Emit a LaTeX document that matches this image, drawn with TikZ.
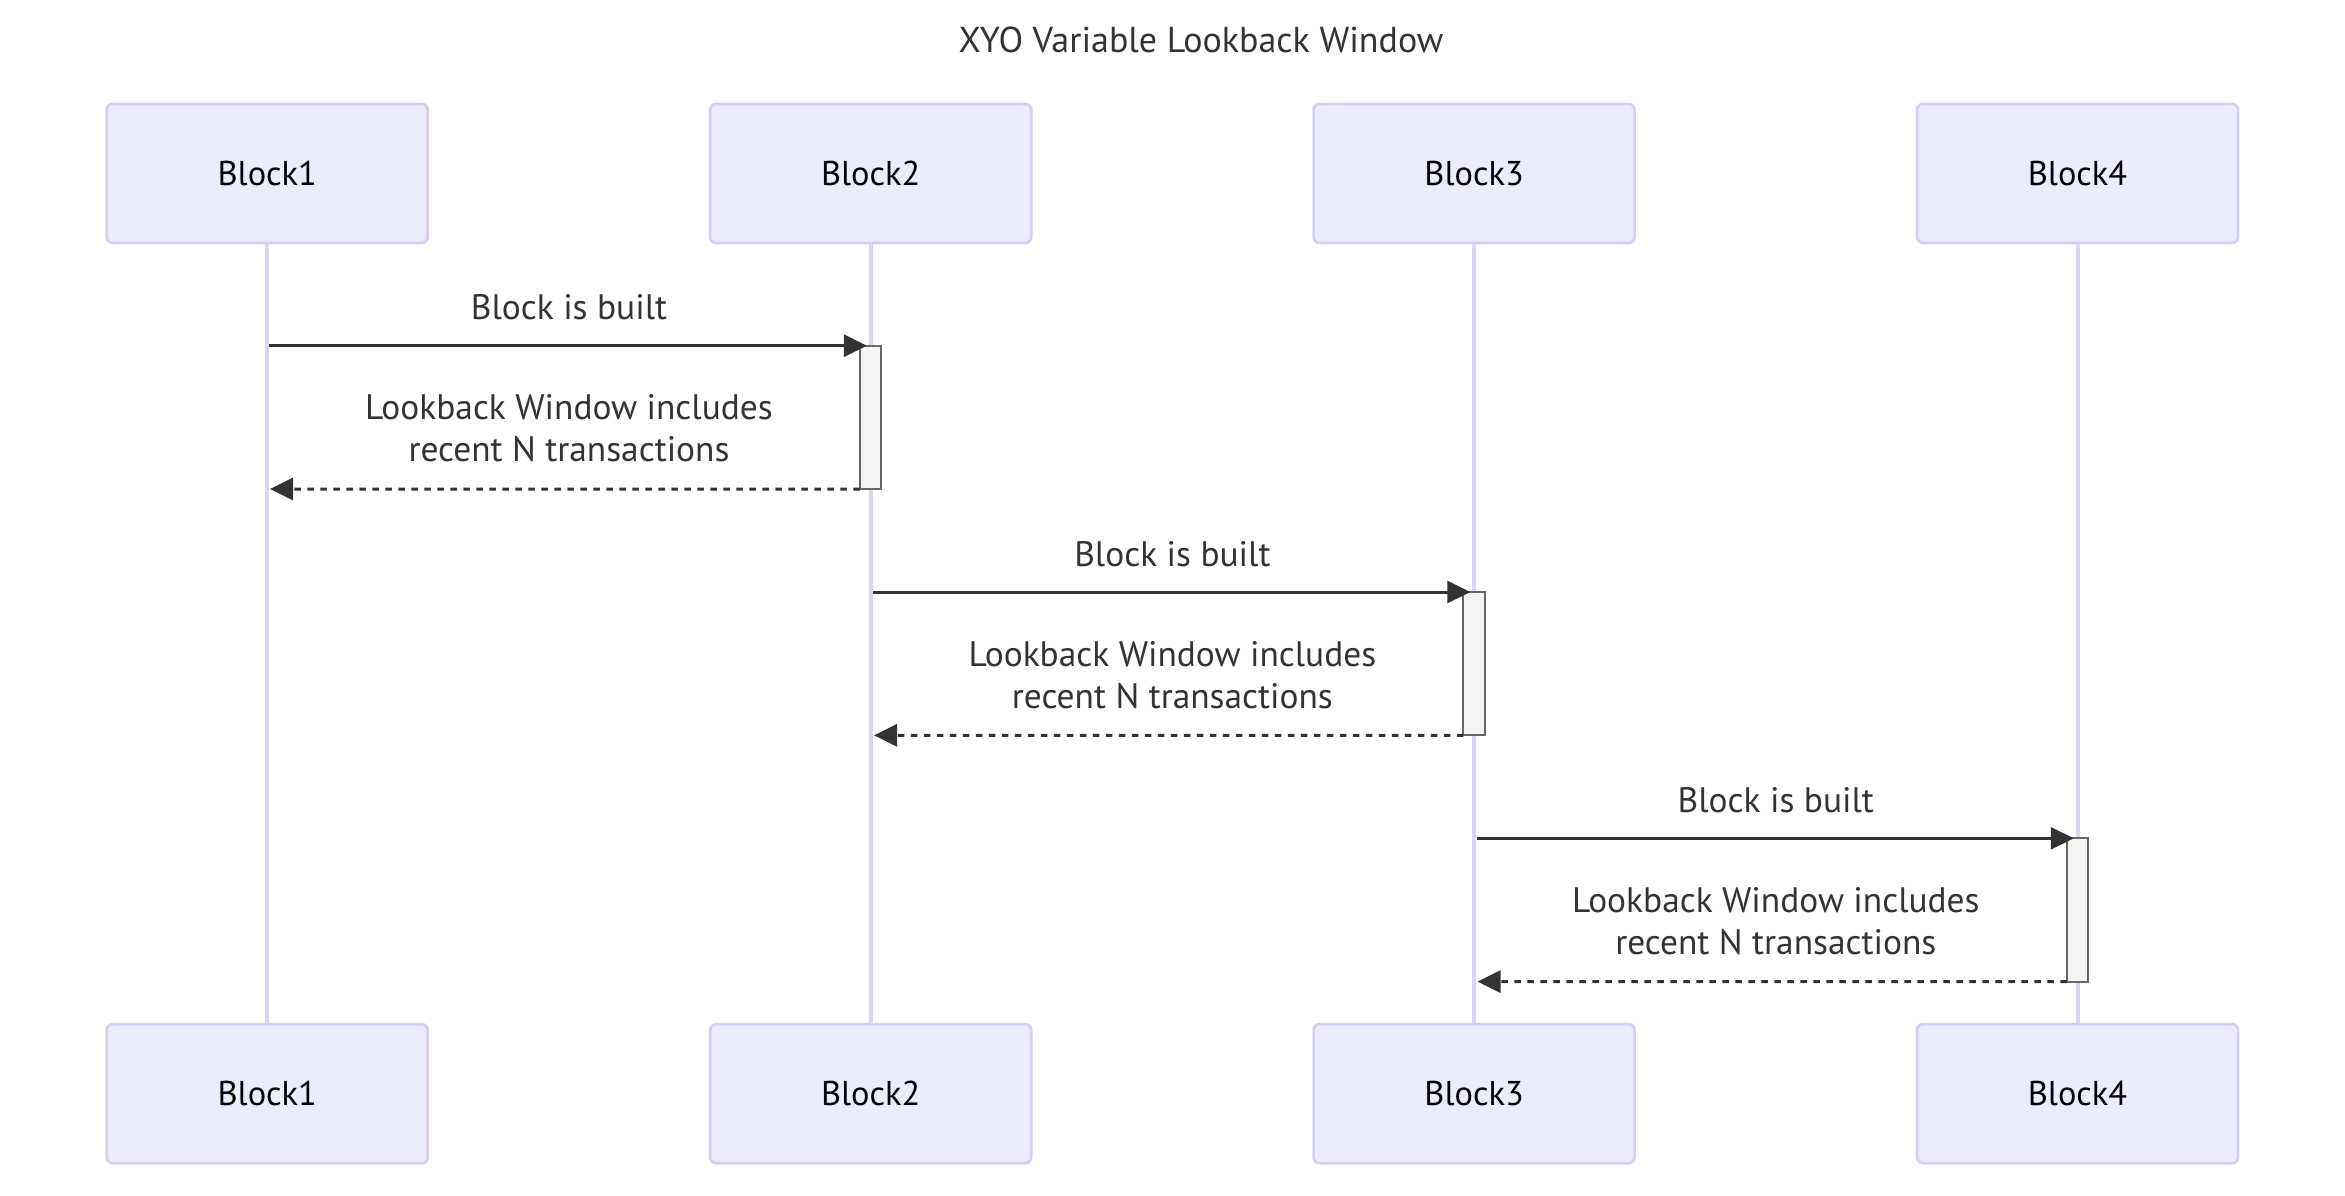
\documentclass[tikz,border=0pt]{standalone}
\usepackage{fontspec}
\setmainfont{PT Sans}
\usetikzlibrary{arrows.meta}
\definecolor{actfill}{HTML}{ECECFF}
\definecolor{actborder}{HTML}{D7CDF3}
\definecolor{lifecol}{HTML}{DCD3F5}
\definecolor{msgcol}{HTML}{333333}
\definecolor{actvfill}{HTML}{F4F4F4}
\definecolor{actvborder}{HTML}{666666}
\begin{document}
\begin{tikzpicture}[x=1pt,y=-1pt,
  actor/.style={draw=actborder, fill=actfill, line width=2.7pt, rounded corners=6pt,
    minimum width=321pt, minimum height=139pt, inner sep=0pt,
    font=\fontsize{34.4}{42}\selectfont, text=black},
  lifeline/.style={draw=lifecol, line width=4pt},
  activation/.style={draw=actvborder, fill=actvfill, line width=2pt, outer sep=0pt,
    minimum width=21.5pt, minimum height=143.3pt, inner sep=0pt, anchor=north},
  msgsolid/.style={draw=msgcol, line width=3pt, -{Triangle[length=23pt,width=22pt]}, color=msgcol},
  msgdash/.style={draw=msgcol, line width=3pt, dash pattern=on 6.5pt off 6.5pt, -{Triangle[length=23pt,width=22pt]}, color=msgcol},
  msglabel/.style={text=msgcol, inner sep=0pt, anchor=base, font=\fontsize{35.4}{42}\selectfont},
  msglabel2/.style={text=msgcol, inner sep=0pt, anchor=south, text depth=0pt, align=center, font=\fontsize{35.4}{42}\selectfont},
  titlestyle/.style={text=msgcol, inner sep=0pt, anchor=base, font=\fontsize{36}{44}\selectfont}
]
\useasboundingbox (0,0) rectangle (2345,1195);

\node[titlestyle] (title) at (1201,52) {XYO Variable Lookback Window};

% actors top
\node[actor] (t1) at (267.3,173.4) {Block1};
\node[actor] (t2) at (870.7,173.4) {Block2};
\node[actor] (t3) at (1474.1,173.4) {Block3};
\node[actor] (t4) at (2077.5,173.4) {Block4};
% actors bottom
\node[actor] (b1) at (267.3,1093.7) {Block1};
\node[actor] (b2) at (870.7,1093.7) {Block2};
\node[actor] (b3) at (1474.1,1093.7) {Block3};
\node[actor] (b4) at (2077.5,1093.7) {Block4};

% lifelines
\draw[lifeline] (t1.south) -- (b1.north);
\draw[lifeline] (t2.south) -- (b2.north);
\draw[lifeline] (t3.south) -- (b3.north);
\draw[lifeline] (t4.south) -- (b4.north);

% activations
\node[activation] (a1) at (870.7,345.7) {};
\node[activation] (a2) at (1474.1,592) {};
\node[activation] (a3) at (2077.5,838.3) {};

% message endpoints on lifelines
\coordinate (s1) at (269,345.7);
\coordinate (r1) at (270,489);
\coordinate (s2) at (873,592);
\coordinate (r2) at (874,735.3);
\coordinate (s3) at (1476.5,838.3);
\coordinate (r3) at (1477.5,981.6);

\draw[msgsolid] (s1) -- ([xshift=7pt]a1.north west);
\draw[msgdash] (a1.south west) -- (r1);
\draw[msgsolid] (s2) -- ([xshift=7pt]a2.north west);
\draw[msgdash] (a2.south west) -- (r2);
\draw[msgsolid] (s3) -- ([xshift=7pt]a3.north west);
\draw[msgdash] (a3.south west) -- (r3);

% labels
\node[msglabel] (m1) at (569,319.7) {Block is built};
\node[msglabel2] (m2) at (569,462) {Lookback Window includes\\recent N transactions};
\node[msglabel] (m3) at (1172.4,566) {Block is built};
\node[msglabel2] (m4) at (1172.4,708.3) {Lookback Window includes\\recent N transactions};
\node[msglabel] (m5) at (1775.8,812.3) {Block is built};
\node[msglabel2] (m6) at (1775.8,954.6) {Lookback Window includes\\recent N transactions};
\end{tikzpicture}
\end{document}
